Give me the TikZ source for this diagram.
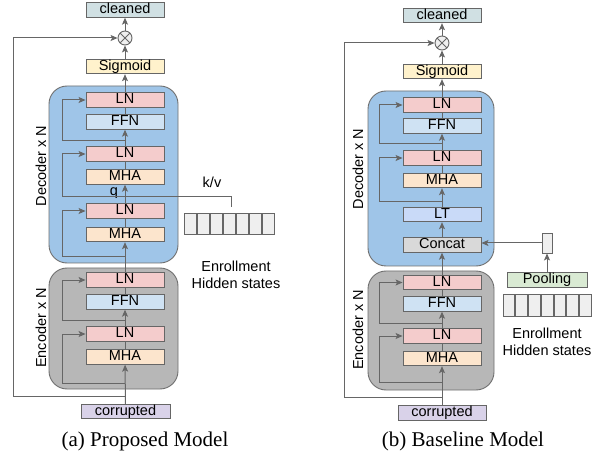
\documentclass[tikz,border=0pt]{standalone}
\usepackage{fontspec}
\setmainfont{Liberation Serif}
\setsansfont{Liberation Sans}
\usetikzlibrary{arrows.meta}
\definecolor{lg}{HTML}{666666}
\definecolor{bordgray}{HTML}{707070}
\definecolor{cleanc}{HTML}{D0E0E3}
\definecolor{sigc}{HTML}{FFF2CC}
\definecolor{lnc}{HTML}{F4CCCC}
\definecolor{ffnc}{HTML}{CFE2F3}
\definecolor{mhac}{HTML}{FCE5CD}
\definecolor{decc}{HTML}{9FC5E8}
\definecolor{encc}{HTML}{B7B7B7}
\definecolor{corc}{HTML}{D9D2E9}
\definecolor{hidc}{HTML}{EFEFEF}
\definecolor{poolc}{HTML}{D9EAD3}
\definecolor{ltc}{HTML}{C9DAF8}
\definecolor{catc}{HTML}{D9D9D9}
\tikzset{
  sfont/.style={font=\sffamily\fontsize{14.5}{17}\selectfont},
  blk/.style={draw=lg, line width=0.9pt, minimum width=78pt, minimum height=14.5pt,
    inner sep=0pt, sfont, text height=10.3pt, text depth=2.6pt},
  ln/.style={draw=lg, line width=1pt},
  arr/.style={-{Stealth[length=7pt,width=6pt,inset=1.6pt]}},
  container/.style={draw=bordgray, line width=0.9pt, rounded corners=18pt},
  hid/.style={draw=lg, line width=0.8pt, fill=hidc},
  mult/.style={circle, draw=lg, line width=0.9pt, fill=hidc, minimum size=14pt, inner sep=0pt,
    path picture={\draw[lg, line width=0.9pt] (path picture bounding box.north west)--(path picture bounding box.south east)
      (path picture bounding box.north east)--(path picture bounding box.south west);}},
  lbl/.style={sfont, inner sep=0pt},
  captxt/.style={font=\fontsize{21}{25}\selectfont, inner sep=0pt}
}
\begin{document}
\begin{tikzpicture}[x=1pt,y=-1pt]
\useasboundingbox (0,0) rectangle (602,454);
\fill[white] (0,0) rectangle (602,454);

%%%%%%%%%%%%%%%% (a) Proposed model
\draw[container, fill=decc] (49,86) rectangle (178,263);
\draw[container, fill=encc] (49,268) rectangle (178,389);

\node[blk, fill=cleanc] (cleanA) at (125,10) {cleaned};
\node[mult] (xA) at (125,38) {};
\node[blk, fill=sigc] (sigA) at (125,66.5) {Sigmoid};
\node[blk, fill=lnc] (lnA1) at (125,100) {LN};
\node[blk, fill=ffnc] (ffnA1) at (125,122) {FFN};
\node[blk, fill=lnc] (lnA2) at (125,154) {LN};
\node[blk, fill=mhac] (mhaA2) at (125,177) {MHA};
\node[blk, fill=lnc] (lnA3) at (125,211) {LN};
\node[blk, fill=mhac] (mhaA3) at (125,234.5) {MHA};
\node[blk, fill=lnc] (lnA4) at (125,280) {LN};
\node[blk, fill=ffnc] (ffnA4) at (125,302) {FFN};
\node[blk, fill=lnc] (lnA5) at (125,334) {LN};
\node[blk, fill=mhac] (mhaA5) at (125,357) {MHA};
\node[blk, fill=corc, minimum width=89pt] (corA) at (125.5,411.5) {corrupted};

\foreach \i in {0,...,6} {
  \draw[hid] (184+13*\i,213) rectangle ++(12,21);
}
\node[lbl, align=center] (enrA) at (236,274.5) {Enrollment\\Hidden states};
\node[lbl] (qA) at (114,193) {q};
\node[lbl] (kvA) at (212,182) {k/v};
\node[lbl, rotate=90] (decA) at (41,166) {Decoder x N};
\node[lbl, rotate=90] (encA) at (41,328) {Encoder x N};
\node[captxt] (capA) at (145,441) {(a) Proposed Model};

\coordinate (a1) at (125,141);
\coordinate (a2) at (125,197);
\coordinate (a3) at (125,257);
\coordinate (a4) at (125,320);
\coordinate (a5) at (125,383);
\coordinate (a6) at (125,396);
\coordinate (kvA0) at (231,207);

\draw[ln, arr] (corA) -- (mhaA5);
\draw[ln] (mhaA5) -- (lnA5);
\draw[ln, arr] (lnA5) -- (ffnA4);
\draw[ln] (ffnA4) -- (lnA4);
\draw[ln, arr] (lnA4) -- (mhaA3);
\draw[ln] (mhaA3) -- (lnA3);
\draw[ln, arr] (lnA3) -- (mhaA2);
\draw[ln] (mhaA2) -- (lnA2);
\draw[ln, arr] (lnA2) -- (ffnA1);
\draw[ln] (ffnA1) -- (lnA1);
\draw[ln, arr] (lnA1) -- (sigA);
\draw[ln, arr] (sigA) -- (xA);
\draw[ln, arr] (xA) -- (cleanA);

\draw[ln, arr] (a1) -- ++(-63,0) |- (lnA1.west);
\draw[ln, arr] (a2) -- ++(-63,0) |- (lnA2.west);
\draw[ln, arr] (a3) -- ++(-63,0) |- (lnA3.west);
\draw[ln, arr] (a4) -- ++(-63,0) |- (lnA4.west);
\draw[ln, arr] (a5) -- ++(-63,0) |- (lnA5.west);
\draw[ln, arr] (a6) -- ++(-112,0) |- (xA.west);
\draw[ln] (kvA0) |- (a2);

%%%%%%%%%%%%%%%% (b) Baseline model
\draw[container, fill=decc] (368,91) rectangle (494,266);
\draw[container, fill=encc] (368,271) rectangle (494,390);

\node[blk, fill=cleanc] (cleanB) at (442,15.5) {cleaned};
\node[mult] (xB) at (442,43) {};
\node[blk, fill=sigc] (sigB) at (442,71.5) {Sigmoid};
\node[blk, fill=lnc] (lnB1) at (442,105) {LN};
\node[blk, fill=ffnc] (ffnB1) at (442,126) {FFN};
\node[blk, fill=lnc] (lnB2) at (442,158) {LN};
\node[blk, fill=mhac] (mhaB2) at (442,180.5) {MHA};
\node[blk, fill=ltc] (ltB) at (442,214.5) {LT};
\node[blk, fill=catc] (catB) at (442,245) {Concat};
\node[blk, fill=lnc] (lnB3) at (442,282.5) {LN};
\node[blk, fill=ffnc] (ffnB3) at (442,304) {FFN};
\node[blk, fill=lnc] (lnB4) at (442,336) {LN};
\node[blk, fill=mhac] (mhaB4) at (442,358.5) {MHA};
\node[blk, fill=corc, minimum width=88pt] (corB) at (442,413) {corrupted};

\node[draw=lg, line width=0.9pt, fill=hidc, minimum width=10pt, minimum height=20pt, inner sep=0pt] (vecB) at (547,243) {};
\node[blk, fill=poolc, minimum width=80pt] (poolB) at (547,280) {Pooling};
\foreach \i in {0,...,6} {
  \draw[hid] (503+12.75*\i,294) rectangle ++(11.75,22);
}
\node[lbl, align=center] (enrB) at (547,341.5) {Enrollment\\Hidden states};
\node[lbl, rotate=90] (decB) at (358,169) {Decoder x N};
\node[lbl, rotate=90] (encB) at (358,330) {Encoder x N};
\node[captxt] (capB) at (463,441) {(b) Baseline Model};

\coordinate (b1) at (442,144);
\coordinate (b2) at (442,202);
\coordinate (b3) at (442,323);
\coordinate (b4) at (442,382);
\coordinate (b5) at (442,397);

\draw[ln, arr] (corB) -- (mhaB4);
\draw[ln] (mhaB4) -- (lnB4);
\draw[ln, arr] (lnB4) -- (ffnB3);
\draw[ln] (ffnB3) -- (lnB3);
\draw[ln, arr] (lnB3) -- (catB);
\draw[ln, arr] (catB) -- (ltB);
\draw[ln, arr] (ltB) -- (mhaB2);
\draw[ln] (mhaB2) -- (lnB2);
\draw[ln, arr] (lnB2) -- (ffnB1);
\draw[ln] (ffnB1) -- (lnB1);
\draw[ln, arr] (lnB1) -- (sigB);
\draw[ln, arr] (sigB) -- (xB);
\draw[ln, arr] (xB) -- (cleanB);

\draw[ln, arr] (b1) -- ++(-63,0) |- (lnB1.west);
\draw[ln, arr] (b2) -- ++(-63,0) |- (lnB2.west);
\draw[ln, arr] (b3) -- ++(-63,0) |- (lnB3.west);
\draw[ln, arr] (b4) -- ++(-63,0) |- (lnB4.west);
\draw[ln, arr] (b5) -- ++(-98,0) |- (xB.west);
\draw[ln, arr] (vecB.west) -- (vecB.west -| catB.east);
\draw[ln, arr] (poolB) -- (vecB);
\end{tikzpicture}
\end{document}
